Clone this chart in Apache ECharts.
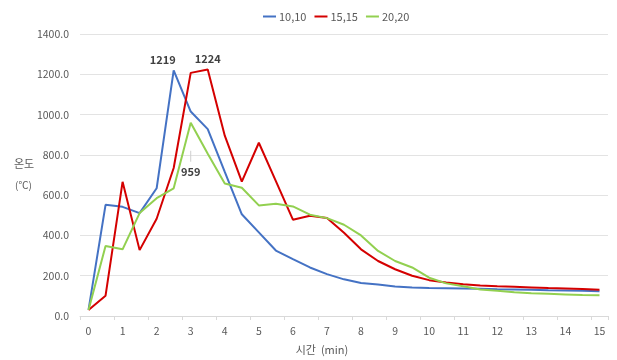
<!DOCTYPE html>
<html>
<head>
<meta charset="utf-8">
<script src="https://cdn.jsdelivr.net/npm/echarts@6/dist/echarts.min.js"></script>
<style>
html,body{margin:0;padding:0;background:#fff;}
#c{width:617px;height:360px;}
</style>
</head>
<body>
<div id="c"></div>
<script>
// time categories (min), every 0.5
const categories = ['0','0.5','1','1.5','2','2.5','3','3.5','4','4.5','5','5.5','6','6.5','7','7.5','8','8.5','9','9.5','10','10.5','11','11.5','12','12.5','13','13.5','14','14.5','15'];
const seriesNames = ['10,10', '15,15', '20,20'];
const s1010 = [30, 552, 542, 511, 634, 1219, 1015, 928, 715, 505, 415, 325, 282, 241, 208, 182, 164, 156, 147, 142, 139, 138, 137, 135, 133, 132, 130, 128, 127, 125, 123];
const s1515 = [30, 101, 666, 327, 483, 735, 1207, 1224, 895, 667, 860, 670, 478, 498, 486, 413, 331, 273, 232, 200, 178, 166, 158, 152, 148, 145, 142, 139, 137, 134, 130];
const s2020 = [30, 347, 331, 511, 585, 634, 959, 805, 658, 637, 549, 557, 544, 503, 486, 453, 400, 323, 273, 241, 190, 162, 148, 132, 125, 118, 113, 110, 107, 104, 103];
// indices of labelled peaks
const peak1010 = 5, peak1515 = 7, peak2020 = 6;

const colors = ['#4472C4', '#D40000', '#92D050'];
const FONT = 'Noto Sans CJK KR';

function withLabel(arr, idx, labelCfg) {
  return arr.map((v, i) => i === idx ? { value: v, label: Object.assign({ show: true }, labelCfg) } : v);
}

const baseLabel = { color: '#404040', fontSize: 11, fontWeight: 'bold', fontFamily: FONT };

const chart = echarts.init(document.getElementById('c'), null, { renderer: 'canvas' });
chart.setOption({
  animation: false,
  backgroundColor: '#fff',
  color: colors,
  textStyle: { fontFamily: FONT },
  legend: {
    top: 6,
    left: 258,
    icon: 'rect',
    itemWidth: 13,
    itemHeight: 2,
    itemGap: 8,
    textStyle: { color: '#595959', fontSize: 11, fontFamily: FONT, padding: [0, 0, 0, -2] },
    data: seriesNames
  },
  grid: { left: 80, right: 9, top: 34, bottom: 41 },
  xAxis: {
    type: 'category',
    data: categories,
    boundaryGap: true,
    name: '시간  (min)',
    nameLocation: 'middle',
    nameGap: 28,
    nameTextStyle: { color: '#595959', fontSize: 11, fontFamily: FONT, padding: [0, 44, 0, 0] },
    axisLine: { lineStyle: { color: '#D9D9D9', width: 1 } },
    axisTick: { show: true, interval: 1, length: 4, lineStyle: { color: '#D9D9D9' } },
    axisLabel: { interval: 1, color: '#595959', fontSize: 10.5, margin: 10, fontFamily: FONT },
    splitLine: { show: false }
  },
  yAxis: {
    type: 'value',
    min: 0,
    max: 1400,
    interval: 200,
    axisLine: { show: false },
    axisTick: { show: false },
    axisLabel: { color: '#595959', fontSize: 10.5, margin: 11, fontFamily: FONT, formatter: v => v.toFixed(1) },
    splitLine: { lineStyle: { color: '#E3E3E3', width: 1 } }
  },
  graphic: [
    { type: 'text', left: 14, top: 158, style: { text: '온도', fill: '#595959', font: '11px "Noto Sans CJK KR"' } },
    { type: 'text', left: 15, top: 180, style: { text: '(℃)', fill: '#595959', font: '10px "Noto Sans CJK KR"' } }
  ],
  series: [
    {
      name: seriesNames[0], type: 'line', showSymbol: true, symbol: 'circle', symbolSize: 0,
      lineStyle: { width: 2 },
      data: withLabel(s1010, peak1010, Object.assign({ position: 'top', distance: 5, offset: [-11, 0] }, baseLabel))
    },
    {
      name: seriesNames[1], type: 'line', showSymbol: true, symbol: 'circle', symbolSize: 0,
      lineStyle: { width: 2 },
      data: withLabel(s1515, peak1515, Object.assign({ position: 'top', distance: 5 }, baseLabel))
    },
    {
      name: seriesNames[2], type: 'line', showSymbol: true, symbol: 'circle', symbolSize: 0,
      lineStyle: { width: 2 },
      data: withLabel(s2020, peak2020, Object.assign({}, baseLabel, {
        position: 'bottom', distance: 28,
        formatter: p => '{bar|}\n{val|' + p.value + '}',
        rich: {
          bar: { width: 1, height: 11, backgroundColor: '#D0D0D0', align: 'center' },
          val: { color: '#404040', fontSize: 11, fontWeight: 'bold', fontFamily: FONT, align: 'center', padding: [4, 0, 0, 0] }
        }
      }))
    }
  ]
});
</script>
</body>
</html>
